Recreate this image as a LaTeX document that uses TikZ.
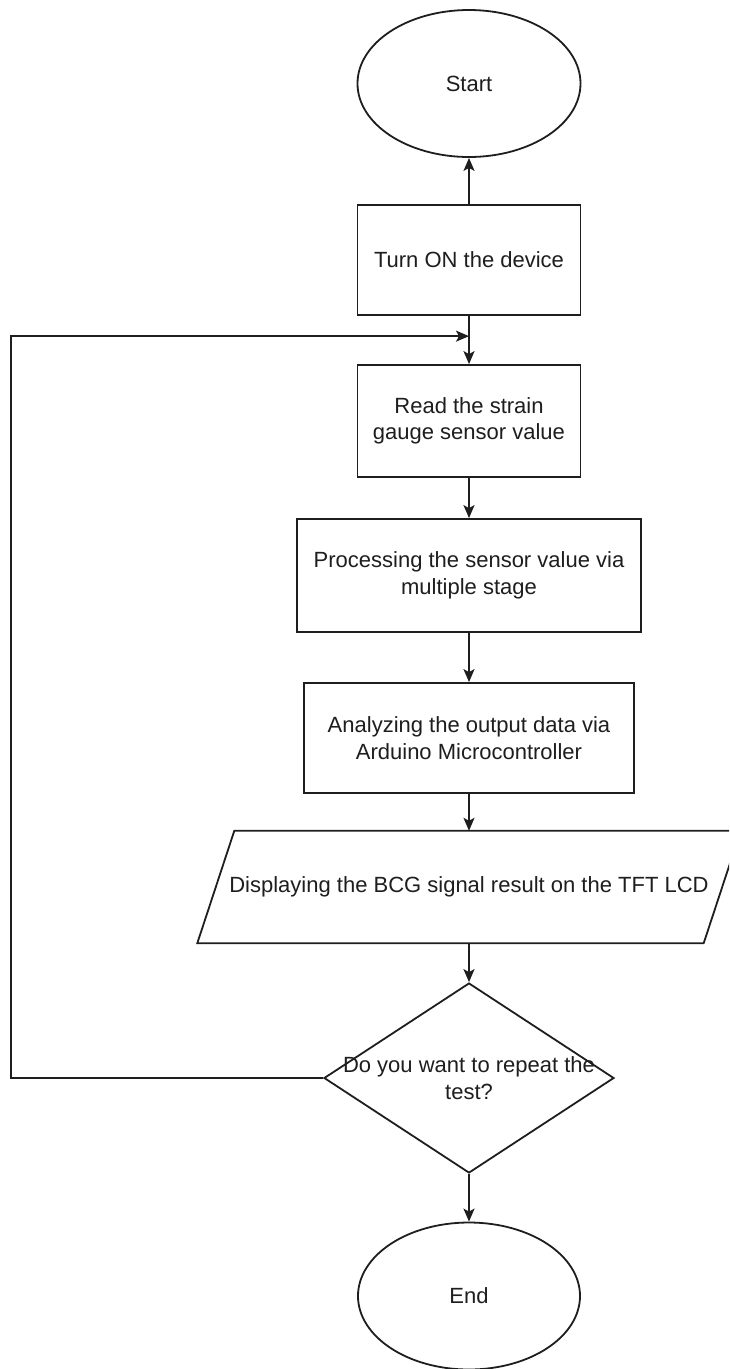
\documentclass[tikz,border=0pt]{standalone}
\usepackage{fontspec}
\setmainfont{Liberation Sans}
\usetikzlibrary{shapes.geometric,arrows.meta,calc}
\definecolor{ink}{HTML}{1E1E1E}
\begin{document}
\begin{tikzpicture}[x=1pt,y=-1pt,
  txt/.style={font=\fontsize{22}{26.4}\selectfont, text=ink, align=center},
  shp/.style={txt, draw=ink, line width=1.8pt, inner sep=0pt, fill=white},
  term/.style={shp, ellipse, minimum width=223pt, minimum height=147pt},
  stepbox/.style={shp, rectangle, minimum height=#1},
  iobox/.style={txt, rectangle, inner sep=0pt, minimum width=543pt, minimum height=112pt},
  outline/.style={draw=ink, line width=1.8pt, fill=white, line join=miter},
  decision/.style={shp, diamond, minimum width=290pt, minimum height=190pt},
  flow/.style={draw=ink, line width=1.8pt, -{Stealth[length=13pt,width=11pt,inset=3pt]}}]

\useasboundingbox (0,0) rectangle (729,1369);
\clip (0,0) rectangle (729,1369);

% process nodes, top to bottom
\node[term] (start) at (469,83.5) {Start};
\node[stepbox=110pt, minimum width=223pt] (turn) at (469,260) {Turn ON the device};
\node[stepbox=112pt, minimum width=223pt] (read) at (469,421) {Read the strain\\gauge sensor value};
\node[stepbox=113pt, minimum width=344pt] (proc) at (469,575.5) {Processing the sensor value via\\multiple stage};
\node[stepbox=110pt, minimum width=330pt] (anal) at (469,738) {Analyzing the output data via\\Arduino Microcontroller};

% input/output parallelogram: outline drawn from the node's corners, text on top
\node[iobox] (disp) at (469,887) {};
\draw[outline] (disp.south west) -- ($(disp.north west)+(37,0)$) -- (disp.north east)
  -- ($(disp.south east)-(37,0)$) -- cycle;
\node[txt] at (disp.center) {Displaying the BCG signal result on the TFT LCD};

\node[decision, label={[txt]center:Do you want to repeat the\\test?}] (dec) at (469,1078) {};
\node[term, minimum width=222pt] (end) at (469,1296) {End};

% junction where the repeat loop re-enters the main flow
\coordinate (join) at ($(turn.south)!0.42!(read.north)$);

% connectors
\draw[flow] (turn.north) -- (start.south);
\draw[flow] (turn.south) -- (read.north);
\draw[flow] (read.south) -- (proc.north);
\draw[flow] (proc.south) -- (anal.north);
\draw[flow] (anal.south) -- (disp.north);
\draw[flow] (disp.south) -- (dec.north);
\draw[flow] (dec.south) -- (end.north);
\draw[flow] (dec.west) -- ++(-312,0) |- (join);
\end{tikzpicture}
\end{document}
